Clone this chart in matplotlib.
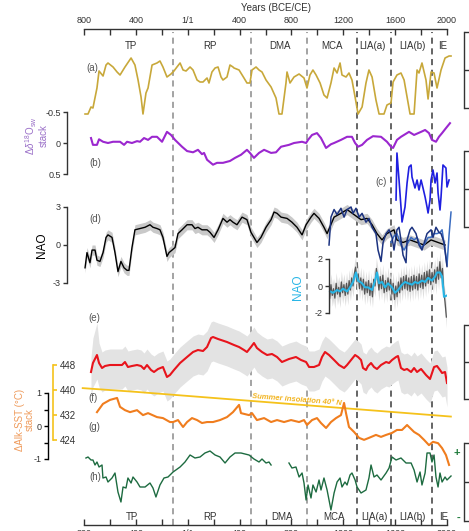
import numpy as np
import matplotlib.pyplot as plt

plt.rcParams['font.family'] = ['Liberation Sans', 'DejaVu Sans']
plt.rcParams['mathtext.fontset'] = 'custom'
plt.rcParams['mathtext.rm'] = 'Liberation Sans'
plt.rcParams['mathtext.it'] = 'Liberation Sans:italic'

# ---------------- data (years BCE/CE) ----------------
# (a) gold proxy (right axis hidden)
gold_year = [-792, -769, -746, -731, -700, -684, -653, -630, -615, -576,
             -545, -522, -484, -437, -407, -383, -360, -345, -322, -306,
             -275, -237, -214, -191, -160, -129, -106, -83, -59, -36,
             -13, 18, 41, 72, 95, 118, 149, 164, 187, 211,
             234, 257, 272, 303, 326, 349, 357, 396, 434, 457,
             480, 496, 527, 550, 573, 604, 643, 681, 704, 727,
             758, 766, 789, 820, 859, 897, 920, 943, 966, 990,
             1021, 1051, 1075, 1105, 1129, 1152, 1175, 1190, 1221, 1244,
             1267, 1291, 1314, 1345, 1375, 1398, 1422, 1452, 1476, 1514,
             1537, 1568, 1584, 1614, 1645, 1669, 1692, 1715, 1746, 1769,
             1784, 1807, 1838, 1854, 1877, 1900, 1923, 1954, 1985, 2016,
             2031]
gold_val = [-4.4, -4.4, -3.7, -3.8, -1.8, -0.1, -0.6, 0.5, 0.7, 0.3,
            -0.2, -0.5, 0.3, 1.2, 0.5, -1.0, -2.7, -4.4, -2.3, -1.8,
            0.5, 0.7, 0.9, 0.3, -0.7, -0.4, -0.1, 0.3, 0.7, 0.0,
            -0.1, 0.3, 0.0, -1.0, -1.2, -1.2, -0.8, -1.3, -0.2, 0.2,
            0.3, -0.7, -1.0, -0.7, 0.5, 0.3, 0.2, 0.0, -0.8, -1.3,
            -1.3, 0.0, 0.3, 0.0, -0.2, -1.0, -1.7, -2.8, -4.4, -4.4,
            -1.3, -0.2, -1.3, -0.7, -0.4, -0.8, -1.8, -0.5, 0.0, -0.5,
            -1.3, -2.5, -2.8, -1.3, 0.2, -0.3, 0.7, -0.5, -0.7, -0.3,
            -1.0, -2.7, -4.4, -3.7, -1.3, 0.0, -0.7, -3.0, -4.4, -4.4,
            -3.5, -3.3, -1.2, -0.5, -0.3, -1.0, -2.7, -4.4, -4.4, 0.0,
            -0.3, 0.7, -1.0, -2.9, -0.2, -0.3, -1.8, 0.0, 1.2, 1.4,
            1.4]

# (b) d18Osw stack
d18o_year = [-746, -731, -700, -684, -653, -615, -576, -522, -491, -468,
             -430, -391, -368, -337, -306, -275, -237, -198, -160, -129,
             -98, -44, -5, 41, 79, 110, 126, 149, 195, 226,
             272, 326, 365, 411, 457, 480, 511, 550, 589, 643,
             681, 720, 781, 820, 882, 913, 928, 959, 997, 1028,
             1067, 1105, 1129, 1182, 1229, 1267, 1291, 1314, 1345, 1383,
             1429, 1491, 1537, 1568, 1584, 1614, 1645, 1684, 1707, 1746,
             1800, 1831, 1861, 1884, 1915, 1938, 1962, 1992, 2023]
d18o_val = [-0.08, 0.03, 0.03, -0.06, -0.02, 0.0, -0.02, -0.02, 0.03, -0.02,
            0.0, -0.03, -0.02, -0.08, -0.05, -0.1, -0.1, -0.02, -0.18, -0.13,
            -0.05, 0.06, 0.13, 0.15, 0.11, 0.18, 0.16, 0.27, 0.35, 0.32,
            0.32, 0.29, 0.24, 0.19, 0.11, 0.16, 0.24, 0.16, 0.11, 0.16,
            0.15, 0.06, 0.03, 0.0, -0.02, 0.0, -0.05, -0.13, -0.16, -0.08,
            0.08, 0.02, 0.0, -0.05, -0.1, -0.1, 0.0, 0.06, 0.03, -0.05,
            -0.11, -0.1, -0.02, 0.06, 0.08, -0.05, -0.1, -0.15, -0.18, -0.13,
            -0.18, -0.21, -0.16, -0.05, -0.02, -0.1, -0.16, -0.24, -0.32]

# (c) blue record
c_year = [1607, 1614, 1630, 1645, 1653, 1676, 1692, 1707, 1723, 1730,
          1753, 1769, 1784, 1800, 1815, 1831, 1846, 1854, 1869, 1877,
          1892, 1908, 1923, 1931, 1946, 1954, 1969, 1992, 2000, 2016]
c_val = [-1.1, 3.6, 0.9, -1.8, -3.3, -1.8, 0.6, 2.2, 2.4, 1.2,
         0.1, 0.9, -0.1, 0.9, 0.1, -0.8, -1.8, -2.4, -1.1, 0.9,
         1.9, 0.6, 1.6, -0.4, -2.1, -0.8, 2.4, 2.1, 0.2, 0.9]

# (d) NAO reconstruction
nao_year = [-792, -777, -754, -738, -715, -700, -677, -653, -630, -615,
            -584, -561, -538, -515, -491, -468, -453, -430, -407, -368,
            -329, -291, -268, -237, -214, -191, -160, -144, -121, -98,
            -75, -44, -5, 33, 56, 79, 110, 149, 172, 203,
            234, 272, 303, 326, 349, 380, 419, 457, 488, 511,
            534, 565, 604, 643, 666, 689, 720, 766, 804, 843,
            882, 913, 951, 974, 1013, 1051, 1075, 1129, 1182, 1229,
            1283, 1337, 1383, 1422, 1460, 1499, 1537, 1591, 1614, 1661,
            1715, 1769, 1823, 1877, 1931, 1985]
nao_val = [-1.8, -0.6, -1.4, -0.4, -0.4, -1.2, -1.3, -0.6, 0.6, 0.8,
           0.6, -0.6, -2.1, -1.3, -1.8, -2.0, -2.0, -0.2, 1.2, 1.3,
           1.4, 1.6, 1.4, 1.3, 1.2, 0.6, -0.9, -0.6, -0.4, -0.2,
           0.9, 1.2, 1.6, 1.6, 1.3, 1.4, 1.2, 1.2, 1.0, 0.6,
           1.2, 2.1, 1.8, 2.0, 1.8, 1.6, 2.2, 2.0, 1.0, 0.6,
           0.2, 0.6, 1.4, 2.0, 2.6, 2.5, 2.2, 2.1, 1.8, 1.4,
           0.8, 1.6, 2.2, 2.5, 2.1, 1.4, 0.9, 2.2, 2.5, 2.8,
           2.4, 2.0, 2.1, 1.6, 0.9, 0.4, 0.9, 1.2, 0.4, 0.2,
           0.4, 0.2, 0.0, 0.4, 0.2, 0.0]
nao_halfwidth = 0.4

nao2_year = [1090, 1105, 1129, 1152, 1182, 1206, 1229, 1260, 1275, 1298,
             1322, 1345, 1375, 1398, 1422, 1452, 1468, 1491, 1507, 1530,
             1553, 1576, 1591, 1614, 1630, 1645, 1661, 1684, 1692, 1715,
             1730, 1761, 1784, 1807, 1831, 1846, 1877, 1892, 1915, 1938,
             1954, 1977, 2000]
nao2_val = [0.0, 2.2, 2.8, 2.4, 2.9, 2.2, 2.8, 3.0, 2.5, 2.9,
            2.2, 2.5, 1.8, 2.1, 1.4, 0.9, -0.4, -1.3, 0.2, 0.9,
            1.2, 0.6, -0.4, 1.2, 1.4, 0.4, -0.8, -1.4, 0.4, 1.2,
            1.4, 0.9, 0.0, -0.4, 0.4, 0.9, 1.2, 0.6, 1.4, 1.0,
            0.9, 0.2, -1.7]

nao3_year = [1568, 1591, 1614, 1645, 1669, 1700, 1723, 1746, 1769, 1800,
             1823, 1854, 1877, 1900, 1923, 1946, 1962, 1985, 2000, 2016, 2031]
nao3_val = [0.2, 0.7, 0.9, 0.0, -0.4, 0.2, 0.6, 0.4, 0.6, -0.2,
            0.0, 0.6, 0.6, 0.9, 0.9, 1.0, 1.2, -0.4, -1.6, 0.8, 2.6]

# inset NAO (annual, grey) and smoothed (cyan)
inset_start, inset_step = 1095, 10
inset_raw = [-0.9, 0.1, -0.7, -0.2, -0.9, 0.2, -0.6, -0.1, -0.8, 0.3,
             -0.5, 0.1, -0.7, 0.2, -0.6, 0.4, -0.3, 0.6, 0.0, 0.9,
             1.4, 0.3, 0.9, -0.2, 0.6, -0.3, 0.5, -0.6, 0.3, -0.5,
             0.4, -0.7, 0.2, -0.8, 0.5, 0.0, 1.3, 0.6, -0.3, 0.7,
             -0.2, 0.8, -0.5, 0.4, -0.4, 0.6, -0.3, 0.5, -0.6, 0.2,
             -1.0, 0.0, -0.8, 0.3, -0.5, 0.6, -0.3, 0.7, -0.2, 0.8,
             -0.3, 0.6, -0.4, 0.7, -0.3, 0.8, -0.2, 0.7, -0.3, 0.9,
             -0.1, 0.8, -0.2, 1.0, 0.0, 1.1, 0.2, 1.2, 0.1, 1.0,
             0.3, 1.2, 0.2, 1.4, 0.5, 1.8, 0.6, 1.3, -0.4, -1.2,
             -2.3]
inset_spread = 0.8
cyan_year = [1098, 1121, 1152, 1175, 1198, 1229, 1252, 1275, 1298, 1314,
             1345, 1368, 1391, 1422, 1445, 1460, 1476, 1499, 1522, 1545,
             1576, 1599, 1622, 1653, 1676, 1700, 1730, 1753, 1776, 1807,
             1831, 1854, 1884, 1908, 1923, 1946, 1962, 1977, 2000]
cyan_val = [-0.4, -0.5, -0.3, -0.4, -0.2, -0.4, -0.1, 0.3, 1.0, 0.4,
            0.2, -0.1, -0.1, -0.3, 0.4, 1.0, 0.2, 0.3, -0.1, 0.2,
            -0.1, -0.5, -0.3, 0.1, 0.3, 0.2, 0.1, 0.3, 0.2, 0.4,
            0.3, 0.6, 0.4, 0.7, 1.0, 1.0, 0.7, -0.8, -0.7]

# (e) red record with uncertainty
red_year = [-746, -731, -700, -684, -661, -638, -600, -545, -507, -484,
            -461, -430, -391, -360, -337, -314, -283, -260, -229, -191,
            -160, -137, -106, -59, -5, 41, 79, 118, 149, 180,
            195, 234, 303, 357, 396, 434, 457, 488, 511, 534,
            573, 612, 650, 689, 727, 781, 835, 874, 913, 936,
            974, 1013, 1036, 1059, 1090, 1129, 1167, 1206, 1229, 1260,
            1291, 1314, 1337, 1352, 1375, 1391, 1414, 1437, 1460, 1491,
            1530, 1553, 1576, 1607, 1622, 1645, 1669, 1692, 1723, 1746,
            1769, 1800, 1838, 1869, 1900, 1923, 1946, 1962, 1985, 2000]
red_val = [-1.0, -0.1, 0.7, -0.1, -0.6, -0.4, -0.3, -0.3, -0.3, 0.0,
           -0.5, -0.4, -0.3, -0.4, -0.7, -0.3, -0.8, -1.0, -0.7, -0.5,
           -1.5, -1.3, -0.8, -0.1, 0.5, 1.0, 1.2, 1.1, 1.5, 2.4,
           2.5, 2.3, 2.0, 1.7, 1.5, 1.2, 1.0, 1.5, 1.9, 1.4,
           1.0, 0.7, 0.8, 0.5, 0.0, 0.3, 0.5, 0.2, 0.0, -0.5,
           -0.5, -0.3, 0.5, 1.0, 0.7, 0.2, -0.3, -0.6, -0.3, 0.2,
           0.7, 0.5, 0.2, -0.6, -0.8, -0.4, -0.1, -0.5, -0.7, -0.3,
           0.0, -0.1, 0.2, 0.5, 0.6, -0.6, -0.8, -0.7, -1.0, -0.6,
           -1.0, -0.7, -1.3, -1.7, -0.5, -0.4, -0.8, -1.1, -1.0, -2.1]
red_err_up, red_err_dn = 1.6, 2.4
red_err_up_start = [1.5, 2.5, 3.2, 2.0]

# (f) summer insolation 40N (W/m2)
ins_year = [-810, -400, 0, 400, 800, 1200, 1600, 2030]
ins_val = [440.6, 439.4, 438.1, 436.8, 435.5, 434.2, 432.9, 431.5]

# (g) Alkenone SST stack (degC)
sst_year = [-700, -654, -600, -545, -522, -484, -445, -391, -345, -306,
            -237, -191, -137, -113, -75, -36, -5, 33, 72, 110,
            149, 195, 249, 303, 349, 396, 411, 473, 496, 534,
            589, 643, 689, 743, 797, 859, 897, 920, 959, 997,
            1028, 1067, 1105, 1144, 1182, 1206, 1221, 1244, 1283, 1322,
            1360, 1398, 1452, 1491, 1530, 1576, 1614, 1653, 1692, 1707,
            1746, 1784, 1823, 1861, 1892, 1931, 1962, 1992, 2016]
sst_val = [0.42, 0.67, 0.79, 0.85, 0.58, 0.48, 0.42, 0.48, 0.33, 0.39,
           0.27, 0.24, 0.12, 0.12, 0.18, -0.03, 0.12, 0.24, 0.18, 0.09,
           0.12, 0.12, 0.18, 0.27, 0.42, 0.64, 0.39, 0.33, 0.39, 0.18,
           0.24, 0.12, 0.18, 0.12, 0.18, 0.12, 0.18, 0.03, 0.18, 0.24,
           0.09, -0.06, 0.12, 0.24, 0.33, 0.70, 0.39, -0.03, -0.18, -0.36,
           -0.42, -0.36, -0.27, -0.33, -0.27, -0.21, -0.12, -0.12, 0.03, -0.03,
           -0.18, -0.27, -0.42, -0.58, -0.48, -0.52, -0.67, -0.88, -1.18]

# (h) green record
h_year = [-785, -769, -746, -731, -715, -700, -684, -661, -654, -630,
          -615, -584, -561, -538, -515, -499, -476, -461, -437, -422,
          -391, -368, -329, -291, -268, -245, -214, -183, -152, -113,
          -59, -21, 18, 56, 95, 133, 172, 211, 249, 288,
          326, 365, 411, 473, 511, 550, 573, 604, 627, 643,
          710, 781, 804, 835, 859, 882, 897, 913, 928, 951,
          966, 990, 1013, 1028, 1051, 1075, 1090, 1105, 1129, 1152,
          1175, 1190, 1213, 1229, 1252, 1267, 1291, 1306, 1337, 1375,
          1398, 1414, 1437, 1460, 1491, 1530, 1553, 1576, 1607, 1645,
          1684, 1723, 1746, 1769, 1792, 1807, 1831, 1846, 1869, 1884,
          1900, 1915, 1931, 1946, 1962, 1985, 2000, 2031]
h_val = [2.4, 2.5, 2.2, 2.2, 1.7, 2.0, 1.5, 1.7, 0.4, 0.5,
         0.0, 0.4, 0.9, -1.0, -2.0, -0.5, -0.6, 0.4, -0.1, 0.5,
         0.0, -0.5, -0.5, -0.1, -0.6, -1.5, -0.3, 0.4, 0.5, 1.0,
         1.5, 2.0, 2.7, 2.4, 2.5, 2.9, 3.1, 2.7, 2.5, 1.9,
         2.5, 2.9, 2.9, 2.7, 2.3, 2.0, 2.3, 1.9, 2.0, 1.7,
         np.nan, 1.9, 1.4, 1.5, 0.5, 0.9, -0.1, -1.8, -0.3, -1.6,
         -0.3, -1.0, 0.2, -0.8, 0.4, -0.8, -1.8, -2.8, -1.1, 0.0,
         0.4, -0.5, 0.0, -0.3, 0.7, 0.9, 0.2, -0.5, -1.1, -0.8,
         0.4, 1.7, 0.5, 0.7, 0.2, 0.9, 1.4, 2.5, 2.2, 2.4,
         1.9, 1.9, 1.2, 0.0, 1.0, -0.3, 0.9, 2.9, 2.9, 2.0,
         2.7, 0.5, -0.5, 0.9, 0.0, 0.5, 0.2, 0.6]

# periods
bounds = [-115, 490, 920, 1306, 1568, 1884]
bound_colors = ['#8a8a8a', '#8a8a8a', '#8a8a8a', '#3a3a3a', '#3a3a3a', '#3a3a3a']
periods = ['TP', 'RP', 'DMA', 'MCA', 'LIA(a)', 'LIA(b)', 'IE']
period_top_x = [-437, 172, 712, 1113, 1422, 1730, 1969]
period_bot_x = [-430, 172, 727, 1129, 1437, 1730, 1977]

year_ticks = list(range(-800, 2001, 200))
year_labels = ['800', '', '400', '', '1/1', '', '400', '', '800', '',
               '1200', '', '1600', '', '2000']

# ---------------- figure ----------------
FW, FH = 469, 531
X0, X1 = -800, 2000
L, R = 84, 447
DARK = '#333333'

fig = plt.figure(figsize=(FW / 100, FH / 100), dpi=100)


def pt(npx):
    return npx * 0.72


def panel(top, bot, p1, v1, p2, v2):
    ax = fig.add_axes([L / FW, 1 - bot / FH, (R - L) / FW, (bot - top) / FH])
    k = (v2 - v1) / (p2 - p1)
    ax.set_xlim(X0, X1)
    ax.set_ylim(v1 + (bot - p1) * k, v1 + (top - p1) * k)
    ax.patch.set_visible(False)
    for s in ax.spines.values():
        s.set_visible(False)
    ax.set_xticks([])
    ax.set_yticks([])
    return ax


def left_axis(ax, pos, lo, hi, ticks, labels, color=DARK):
    sp = ax.spines['left']
    sp.set_visible(True)
    sp.set_position(pos)
    sp.set_bounds(lo, hi)
    sp.set_color(color)
    sp.set_linewidth(1)
    ax.set_yticks(ticks, labels)
    ax.tick_params(axis='y', left=True, right=False, direction='out', length=3,
                   width=1, color=color, labelsize=6.5, labelcolor=DARK, pad=1.5)


def right_bracket(ax, lo, hi):
    sp = ax.spines['right']
    sp.set_visible(True)
    sp.set_position(('outward', pt(464 - R)))
    sp.set_bounds(lo, hi)
    sp.set_color(DARK)
    sp.set_linewidth(1)
    ax.yaxis.tick_right()
    ax.set_yticks([lo, (lo + hi) / 2, hi], ['', '', ''])
    ax.tick_params(axis='y', right=True, left=False, direction='out',
                   length=5, width=1, color=DARK)


# main time axis, period boundaries
ax0 = fig.add_axes([L / FW, 1 - 525 / FH, (R - L) / FW, (525 - 29) / FH])
ax0.set_xlim(X0, X1)
ax0.set_ylim(0, 1)
ax0.patch.set_visible(False)
for side in ['left', 'right']:
    ax0.spines[side].set_visible(False)
for side in ['top', 'bottom']:
    ax0.spines[side].set_color(DARK)
    ax0.spines[side].set_linewidth(1)
ax0.set_yticks([])
ax0.set_xticks(year_ticks, year_labels)
ax0.tick_params(axis='x', top=True, bottom=True, labeltop=True, labelbottom=True,
                direction='in', length=4, width=1, color=DARK, labelsize=6.5,
                labelcolor=DARK, pad=3)
for b, c in zip(bounds, bound_colors):
    ax0.axvline(b, ymin=0, ymax=0.994, color=c, lw=1.1, ls=(0, (4, 3)))
for name, xt, xb in zip(periods, period_top_x, period_bot_x):
    ax0.text(xt, (525 - 46) / 496, name, ha='center', va='center', fontsize=7, color=DARK)
    ax0.text(xb, (525 - 517) / 496, name, ha='center', va='center', fontsize=7, color=DARK)
fig.text(276 / FW, 1 - 8 / FH, 'Years (BCE/CE)', ha='center', va='center',
         fontsize=7, color=DARK)

# (a)
axa = panel(25, 125, 70, 0, 60, 1)
axa.plot(gold_year, gold_val, color='#c8a83a', lw=1.2, clip_on=False)
right_bracket(axa, -3.8, 3.8)

# (b)
axb = panel(100, 185, 143, 0, 112, -0.5)
axb.plot(d18o_year, d18o_val, color='#9b27cf', lw=1.5, clip_on=False)
left_axis(axb, ('outward', pt(L - 67)), -0.5, 0.5, [-0.5, 0, 0.5], ['-0.5', '0', '0.5'])

# (c)
axc = panel(140, 235, 189, 0, 179, 1)
axc.plot(c_year, c_val, color='#1f1fe0', lw=1.2, clip_on=False)
right_bracket(axc, -3.8, 3.8)

# (d)
axd = panel(195, 295, 245, 0, 207, 3)
nv = np.array(nao_val)
axd.fill_between(nao_year, nv - nao_halfwidth, nv + nao_halfwidth, color='#c9c9c9', lw=0)
axd.plot(nao_year, nao_val, color='black', lw=1.0)
axd.plot(nao3_year, nao3_val, color='#3a6cc0', lw=1.1, clip_on=False)
axd.plot(nao2_year, nao2_val, color='#1c3380', lw=1.1, clip_on=False)
left_axis(axd, ('outward', pt(L - 67)), -3, 3, [-3, 0, 3], ['-3', '0', '3'])

# inset NAO
axi = panel(245, 330, 286, 0, 259, 2)
raw = np.array(inset_raw)
raw_year = inset_start + inset_step * np.arange(len(raw))
axi.fill_between(raw_year, raw - inset_spread, raw + inset_spread, color='#dedede', lw=0)
axi.plot(raw_year, raw, color='#555555', lw=0.9)
axi.plot(cyan_year, cyan_val, color='#29b6e6', lw=1.5)
left_axis(axi, ('data', 1090), -2, 2, [-2, 0, 2], ['-2', '0', '2'])

# (e)
axe = panel(310, 410, 362, 0, 352, 1)
rv = np.array(red_val)
up = rv + red_err_up
up[:len(red_err_up_start)] = rv[:len(red_err_up_start)] + np.array(red_err_up_start)
axe.fill_between(red_year, rv - red_err_dn, up, color='#e3e3e3', lw=0)
axe.plot(red_year, red_val, color='#e8141c', lw=1.5)
right_bracket(axe, -3.7, 3.7)

# (f) insolation
axf = panel(355, 450, 390, 440, 415, 432)
axf.plot(ins_year, ins_val, color='#f5c21b', lw=1.3, clip_on=False)
sp = axf.spines['right']
sp.set_visible(True)
sp.set_position(('axes', (53 - L) / (R - L)))
sp.set_bounds(424, 448)
sp.set_color('#f5c21b')
sp.set_linewidth(1.2)
axf.yaxis.tick_right()
axf.set_yticks([424, 432, 440, 448], ['424', '432', '440', '448'])
axf.tick_params(axis='y', right=True, left=False, direction='out', length=3, width=1.2,
                color='#f5c21b', labelsize=7, labelcolor=DARK, pad=2)
axf.text(496, 437.9, 'Summer insolation 40° N', color='#f2b31c', fontsize=5.5,
         fontweight='bold', fontstyle='italic', rotation=-4.5,
         rotation_mode='anchor', ha='left', va='center')

# (g) SST stack
axg = panel(380, 480, 426, 0, 393, 1)
axg.plot(sst_year, sst_val, color='#f07d1e', lw=1.5, clip_on=False)
left_axis(axg, ('outward', pt(L - 48)), -1, 1, [-1, -0.5, 0, 0.5, 1], ['-1', '', '0', '', '1'],
          color='black')

# (h)
axh = panel(435, 531, 482, 0, 472, 1)
axh.plot(h_year, h_val, color='#1d6b40', lw=1.0, clip_on=False)
right_bracket(axh, -3.9, 3.9)
axh.text(2077, 2.9, '+', color='#1d7a3a', fontsize=8, fontweight='bold',
         ha='center', va='center', clip_on=False)
axh.text(2092, -3.6, '-', color='#1d7a3a', fontsize=8, fontweight='bold',
         ha='center', va='center', clip_on=False)

# panel letters
for lab, x, y in [('(a)', 92, 68), ('(b)', 95, 163), ('(c)', 381, 182), ('(d)', 95, 219),
                  ('(e)', 94, 318), ('(f)', 93, 398), ('(g)', 94, 427), ('(h)', 95, 477)]:
    fig.text(x / FW, 1 - y / FH, lab, ha='center', va='center', fontsize=7, color='#555555')

# axis titles
fig.text(36 / FW, 1 - 136 / FH, r'$\Delta\delta^{18}$O$_{\rm sw}$' + '\nstack', rotation=90,
         ha='center', va='center', multialignment='center', fontsize=7,
         color='#9a6fc8', linespacing=1.0)
fig.text(42 / FW, 1 - 245 / FH, 'NAO', rotation=90, ha='center', va='center',
         fontsize=8.5, color='black')
fig.text(298 / FW, 1 - 287 / FH, 'NAO', rotation=90, ha='center', va='center',
         fontsize=8.5, color='#29b6e6')
fig.text(25 / FW, 1 - 420 / FH, 'ΔAlk-SST (°C)\nstack', rotation=90, ha='center',
         va='center', multialignment='center', fontsize=7, color='#ef9a5a',
         linespacing=1.0)

fig.savefig('out.png', dpi=100)
